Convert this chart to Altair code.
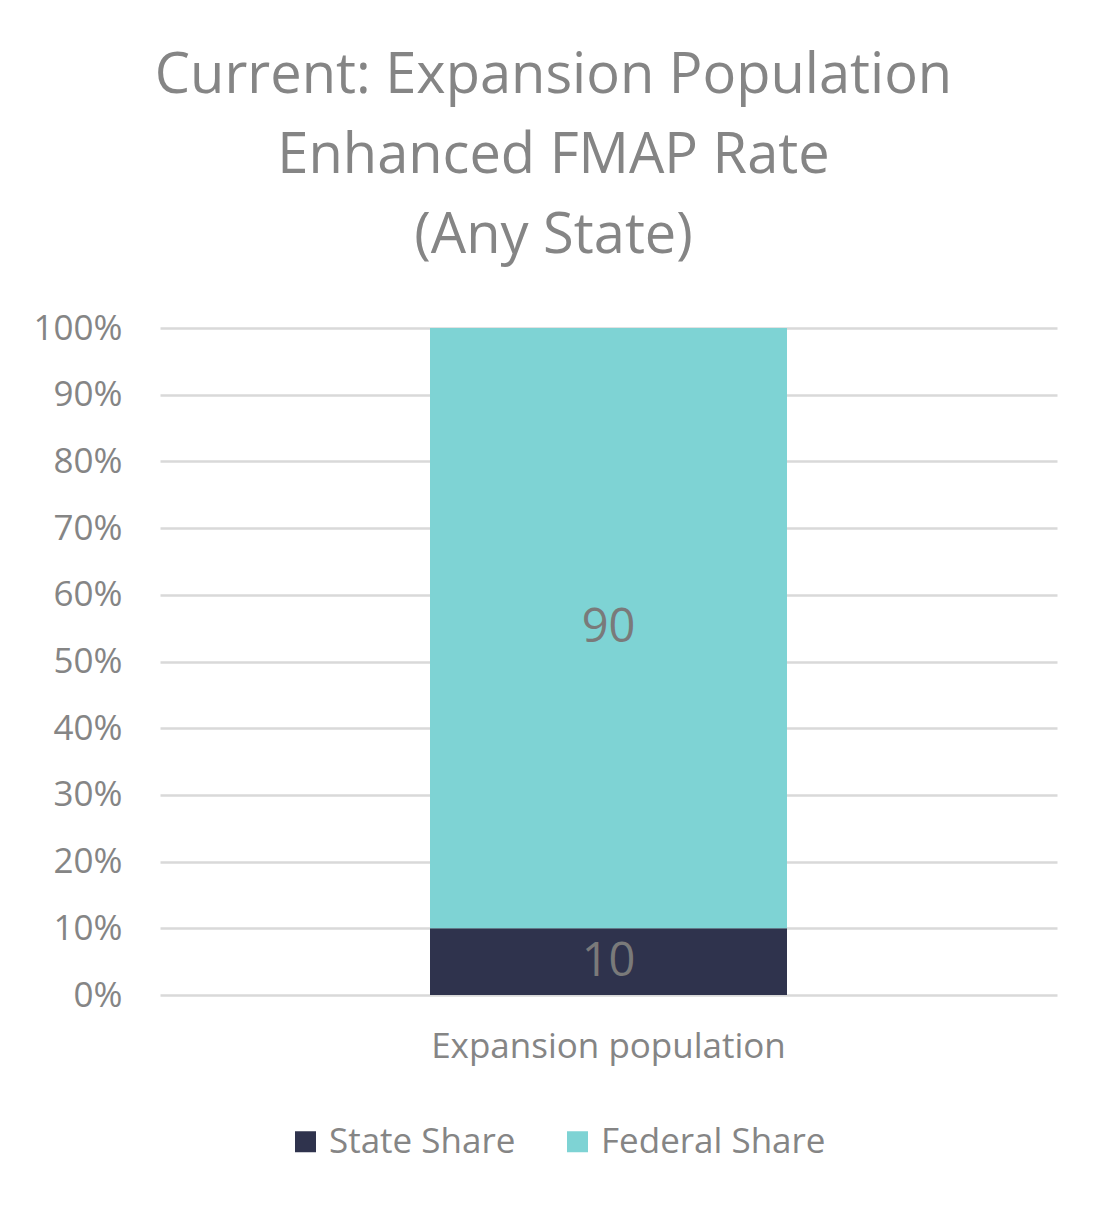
import altair as alt
import pandas as pd

categories = ["Expansion population", "Expansion population"]
series = ["State Share", "Federal Share"]
values = [10, 90]
order = [0, 1]
colors = ["#2F334D", "#7ED3D4"]
y_ticks = [0, 10, 20, 30, 40, 50, 60, 70, 80, 90, 100]

df = pd.DataFrame({"cat": categories, "series": series, "value": values, "ord": order})

FONT = "Open Sans"
GRAY = "#858585"

base = alt.Chart(df).transform_stack(
    stack="value", groupby=["cat"], as_=["y0", "y1"], sort=[alt.SortField("ord")]
).transform_calculate(mid="(datum.y0 + datum.y1) / 2")

bars = base.mark_bar(size=357).encode(
    x=alt.X("cat:N", title=None,
            axis=alt.Axis(labelAngle=0, labelFontSize=35, labelColor=GRAY, labelFont=FONT,
                          domain=False, ticks=False, labelPadding=34, grid=False,
                          labelLimit=1000)),
    y=alt.Y("y0:Q", scale=alt.Scale(domain=[0, 100], nice=False), title=None,
            axis=alt.Axis(values=y_ticks, labelExpr="datum.value + '%'", labelFontSize=35,
                          labelColor=GRAY, labelFont=FONT, domain=False, ticks=False,
                          labelPadding=38, gridColor="#D9D9D9", gridWidth=2.5)),
    y2="y1:Q",
    color=alt.Color("series:N", scale=alt.Scale(domain=series, range=colors),
                    legend=alt.Legend(title=None, orient="none", direction="horizontal",
                                      legendX=128, legendY=796, symbolType="square",
                                      symbolSize=441, symbolStrokeWidth=0, labelFontSize=35,
                                      labelColor=GRAY, labelFont=FONT, labelOffset=6,
                                      columnPadding=44, symbolOpacity=1, labelLimit=1000)),
)

labels = base.mark_text(fontSize=47, font=FONT, color="#7A7A7A", baseline="middle").encode(
    x=alt.X("cat:N"),
    y=alt.Y("mid:Q"),
    text=alt.Text("value:Q"),
)

chart = alt.layer(bars, labels).properties(
    width=897,
    height=667,
    title=alt.TitleParams(
        text=["Current: Expansion Population", "Enhanced FMAP Rate", "(Any State)"],
        fontSize=56, font=FONT, color=GRAY, fontWeight="normal",
        lineHeight=80, anchor="middle", dx=-55, offset=46,
    ),
    autosize=alt.AutoSizeParams(type="none"),
    padding={"left": 152, "top": 320, "right": 44, "bottom": 205},
).configure(background="white", view=alt.ViewConfig(stroke=None))

chart.save("out.html", embed_options={"renderer": "svg", "actions": False})
